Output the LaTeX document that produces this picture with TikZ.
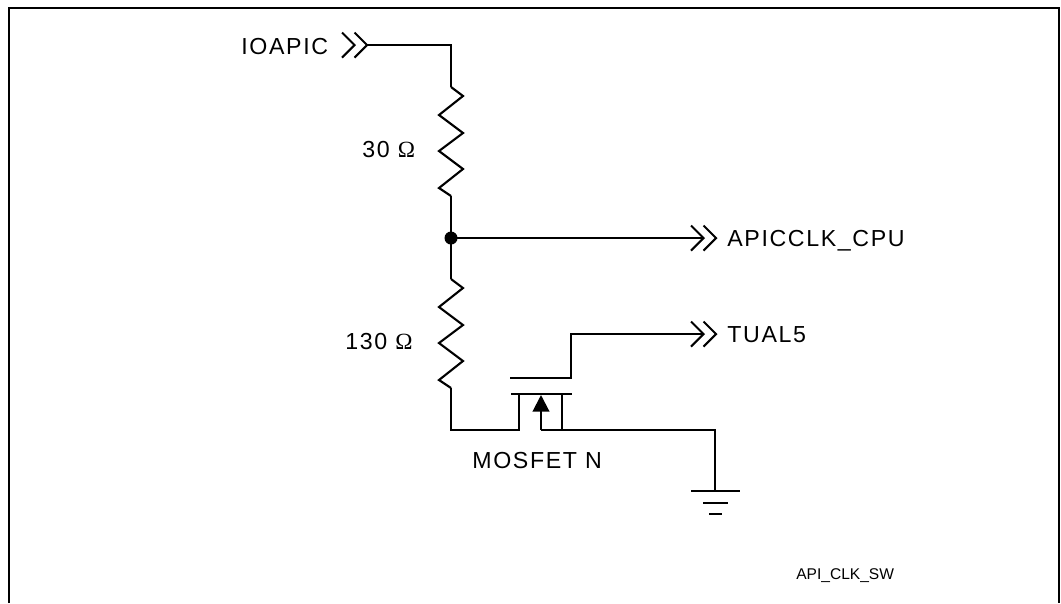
\documentclass[tikz,border=0pt]{standalone}
\usepackage{fontspec}
\setmainfont{Liberation Sans}[LetterSpace=7]
\newfontfamily\smallfont{Liberation Sans}
\newfontfamily\ohmfont{Liberation Serif}
\usetikzlibrary{arrows.meta}
\tikzset{
    wire/.style = {line width = 1.2pt, line join = miter},
    label/.style = {anchor = base west, inner sep = 0pt, font = \fontsize{13.2pt}{15pt}\selectfont},
    chevrons/.pic = {
        \draw[wire] (-25,-12.5) -- (-12.5,0) -- (-25,12.5);
        \draw[wire] (-12.5,-12.5) -- (0,0) -- (-12.5,12.5);
    },
    resistor/.pic = {
        \draw[wire] (0,0) -- (12,9) -- (-12,28) -- (12,46) -- (-12,64) -- (12,82) -- (-12,101) -- (0,109);
    }
}
\begin{document}
\begin{tikzpicture}[x = 0.02cm, y = -0.02cm]
    \useasboundingbox (0,0) rectangle (1061,603);
    \draw[line width = 1.4pt] (9,603) -- (9,8) -- (1059,8) -- (1059,603);

    % points of the wires
    \coordinate (inTip) at (367,45);
    \coordinate (corner) at (451,45);
    \coordinate (resTopA) at (451,87);
    \coordinate (resTopB) at (451,196);
    \coordinate (junction) at (451,238);
    \coordinate (resLowA) at (451,279);
    \coordinate (resLowB) at (451,388);
    \coordinate (sourceFoot) at (451,430);
    \coordinate (sourceLeg) at (519,430);
    \coordinate (sourceTop) at (519,394);
    \coordinate (cpuTip) at (716,238);
    \coordinate (cpuEnd) at (703,238);
    \coordinate (gateA) at (510,378);
    \coordinate (gateB) at (571,378);
    \coordinate (gateC) at (571,334);
    \coordinate (tualEnd) at (703,334);
    \coordinate (tualTip) at (716,334);
    \coordinate (barA) at (511,394);
    \coordinate (barB) at (572,394);
    \coordinate (drainTop) at (562,394);
    \coordinate (drainFoot) at (562,430);
    \coordinate (bulkFoot) at (541,430);
    \coordinate (bulkTip) at (541,395);
    \coordinate (gndCorner) at (715,430);
    \coordinate (gndTop) at (715,491);

    % IOAPIC and upper resistor
    \pic at (inTip) {chevrons};
    \draw[wire] (inTip) -- (corner) -- (resTopA);
    \pic at (resTopA) {resistor};
    \draw[wire] (resTopB) -- (junction) -- (resLowA);
    \fill (junction) circle(6.5);
    \pic at (resLowA) {resistor};

    % outputs
    \draw[wire] (junction) -- (cpuEnd);
    \pic at (cpuTip) {chevrons};
    \draw[wire] (gateA) -- (gateB) -- (gateC) -- (tualEnd);
    \pic at (tualTip) {chevrons};

    % MOSFET
    \draw[wire] (resLowB) -- (sourceFoot) -- (sourceLeg) -- (sourceTop);
    \draw[wire] (barA) -- (barB);
    \draw[wire] (drainTop) -- (drainFoot);
    \draw[wire, -{Triangle[length = 9.5pt, width = 9.5pt]}] (bulkFoot) -- (bulkTip);
    \draw[wire] (bulkFoot) -- (gndCorner) -- (gndTop);

    % ground
    \draw[wire] (691,491) -- (740,491);
    \draw[wire] (703,503) -- (728,503);
    \draw[wire] (709,514) -- (722,514);

    \node[label] (ioapic) at (241,54) {IOAPIC};
    \node[label] (cpu) at (727,246) {APICCLK\_CPU};
    \node[label] (tual) at (727,342) {TUAL5};
    \node[label] (mosfet) at (472,468) {MOSFET N};
    \node[label] (ohmA) at (362,157) {30 {\ohmfont Ω}};
    \node[label] (ohmB) at (345,349) {130 {\ohmfont Ω}};
    \node[anchor = base west, inner sep = 0pt, font = \smallfont\fontsize{8.85pt}{10pt}\selectfont] (tag) at (796,579) {API\_CLK\_SW};
\end{tikzpicture}
\end{document}
